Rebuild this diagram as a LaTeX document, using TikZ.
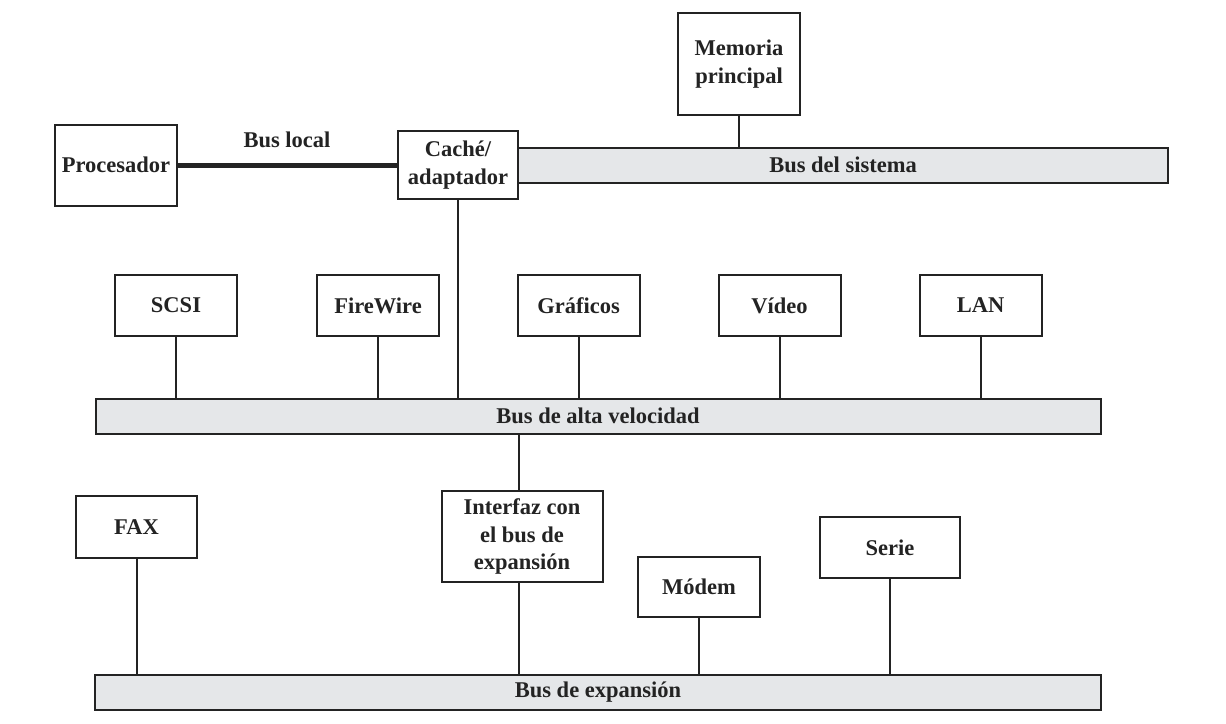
\documentclass[tikz,border=0pt]{standalone}
\usepackage{fontspec}
\setmainfont{Liberation Serif}
\definecolor{busfill}{RGB}{229,231,233}
\definecolor{ink}{RGB}{35,35,35}
\begin{document}
\begin{tikzpicture}[x=1pt,y=-1pt,
  box/.style={draw=ink, line width=2pt, fill=white, rectangle, inner sep=0pt,
    align=center, font=\fontsize{22.5}{27.5}\selectfont\bfseries, text=ink},
  bus/.style={draw=ink, line width=2pt, fill=busfill, rectangle, inner sep=0pt,
    minimum height=35pt, font=\fontsize{22.5}{27}\selectfont\bfseries, text=ink},
  wire/.style={draw=ink, line width=2pt},
  localbus/.style={draw=ink, line width=5pt}]
\useasboundingbox (0,0) rectangle (1226,723);

% buses
\node[bus, minimum width=650pt] (sysbus) at (843,165) {Bus del sistema};
\node[bus, minimum width=1005pt] (hbus) at (598,416) {Bus de alta velocidad};
\node[bus, minimum width=1006pt] (ebus) at (598,692) {Bus de expansión};

% top row
\node[box, minimum width=122pt, minimum height=81pt] (proc) at (116,165) {Procesador};
\node[box, minimum width=120pt, minimum height=68pt] (cache) at (458,165) {Caché/\\adaptador};
\node[box, minimum width=122pt, minimum height=102pt] (mem) at (739,64) {Memoria\\principal};
\node[font=\fontsize{22.5}{27}\selectfont\bfseries, text=ink] (bl) at (287,140) {Bus local};

% middle row
\node[box, minimum width=122pt, minimum height=61pt] (scsi) at (176,305.5) {SCSI};
\node[box, minimum width=122pt, minimum height=61pt] (fw) at (378,305.5) {FireWire};
\node[box, minimum width=122pt, minimum height=61pt] (graf) at (578.5,305.5) {Gráficos};
\node[box, minimum width=122pt, minimum height=61pt] (video) at (779.5,305.5) {Vídeo};
\node[box, minimum width=122pt, minimum height=61pt] (lan) at (980.5,305.5) {LAN};

% bottom row
\node[box, minimum width=121pt, minimum height=62pt] (fax) at (136.5,527) {FAX};
\node[box, minimum width=161pt, minimum height=91pt] (intf) at (522,536.5) {Interfaz con\\el bus de\\expansión};
\node[box, minimum width=122pt, minimum height=60pt] (modem) at (699,587) {Módem};
\node[box, minimum width=140pt, minimum height=61pt] (serie) at (890,547.5) {Serie};

% connectors
\draw[localbus] (proc.east) -- (cache.west);
\draw[wire] (mem.south) -- (mem.south |- sysbus.north);
\draw[wire] (cache.south) -- (cache.south |- hbus.north);
\foreach \n in {scsi,fw,graf,video,lan}
  \draw[wire] (\n.south) -- (\n.south |- hbus.north);
\coordinate (hx) at (519,434);
\draw[wire] (hbus.south -| hx) -- (intf.north -| hx);
\draw[wire] (intf.south -| hx) -- (ebus.north -| hx);
\foreach \n in {fax,modem,serie}
  \draw[wire] (\n.south) -- (\n.south |- ebus.north);
\end{tikzpicture}
\end{document}
